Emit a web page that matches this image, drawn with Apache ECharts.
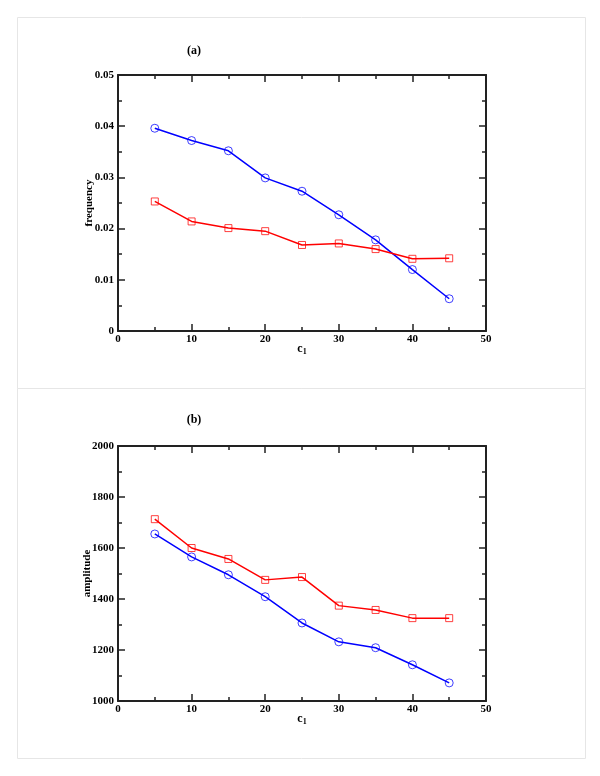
<!DOCTYPE html>
<html>
<head>
<meta charset="utf-8">
<script src="https://cdn.jsdelivr.net/npm/echarts@6/dist/echarts.min.js"></script>
<style>html,body{margin:0;padding:0;background:#fff;}#c{width:600px;height:776px;}</style>
</head>
<body>
<div id="c"></div>
<script>
const c1Values = [5, 10, 15, 20, 25, 30, 35, 40, 45];
const freqBlue = [0.0396, 0.0372, 0.0352, 0.0299, 0.0273, 0.0227, 0.0178, 0.0120, 0.0063];
const freqRed  = [0.0253, 0.0214, 0.0201, 0.0195, 0.0168, 0.0171, 0.0160, 0.0141, 0.0142];
const ampBlue  = [1655, 1565, 1495, 1409, 1306, 1232, 1209, 1142, 1071];
const ampRed   = [1713, 1600, 1557, 1475, 1486, 1374, 1357, 1325, 1325];
const panelTitles = ['(a)', '(b)'];
const yNames = ['frequency', 'amplitude'];

const FONT = '"Liberation Serif", "Times New Roman", serif';
const pairs = (xs, ys) => xs.map((x, i) => [x, ys[i]]);

function xAxes(gi) {
  const common = {
    gridIndex: gi, type: 'value', min: 0, max: 50, interval: 10,
    axisLine: { show: true, onZero: false, lineStyle: { color: '#222', width: 2 } },
    axisTick: { show: true, inside: true, length: 7, lineStyle: { color: '#222', width: 1.5 } },
    minorTick: { show: true, splitNumber: 2, length: 4, lineStyle: { color: '#222', width: 1.5 } },
    splitLine: { show: false }
  };
  return [
    Object.assign({}, common, {
      position: 'bottom',
      axisLabel: { fontFamily: FONT, fontWeight: 'bold', fontSize: 11, color: '#000', margin: 3 },
      name: '{c|c}{s|1}', nameLocation: 'middle', nameGap: 11, nameMoveOverlap: false,
      nameTextStyle: { rich: {
        c: { fontFamily: FONT, fontWeight: 'bold', fontSize: 12, color: '#000' },
        s: { fontFamily: FONT, fontWeight: 'bold', fontSize: 8, color: '#000', verticalAlign: 'bottom', padding: [6, 0, 0, 0] }
      } }
    }),
    Object.assign({}, common, { position: 'top', axisLabel: { show: false } })
  ];
}

function yAxes(gi, min, max, interval, fmt) {
  const common = {
    gridIndex: gi, type: 'value', min: min, max: max, interval: interval,
    axisLine: { show: true, onZero: false, lineStyle: { color: '#222', width: 2 } },
    axisTick: { show: true, inside: true, length: 7, lineStyle: { color: '#222', width: 1.5 } },
    minorTick: { show: true, splitNumber: 2, length: 4, lineStyle: { color: '#222', width: 1.5 } },
    splitLine: { show: false }
  };
  return [
    Object.assign({}, common, {
      position: 'left',
      axisLabel: { fontFamily: FONT, fontWeight: 'bold', fontSize: 11, color: '#000', margin: 4, formatter: fmt },
      name: yNames[gi], nameLocation: 'middle', nameGap: gi === 0 ? 23 : 25, nameMoveOverlap: false,
      nameTextStyle: { fontFamily: FONT, fontWeight: 'bold', fontSize: 11, color: '#000' }
    }),
    Object.assign({}, common, { position: 'right', axisLabel: { show: false } })
  ];
}

function series(xi, yi, data, color, symbol) {
  return {
    type: 'line', xAxisIndex: xi, yAxisIndex: yi, data: data,
    symbol: symbol, symbolSize: symbol === 'circle' ? 8 : 7,
    lineStyle: { color: color, width: 1.5 },
    itemStyle: { color: 'transparent', borderColor: color, borderWidth: 1, opacity: 0.75 },
    emphasis: { disabled: true }, animation: false, z: 3
  };
}

const chart = echarts.init(document.getElementById('c'), null, { renderer: 'canvas' });
chart.setOption({
  backgroundColor: '#fff',
  animation: false,
  graphic: [
    { type: 'rect', shape: { x: 17.5, y: 17.5, width: 568, height: 371 }, style: { fill: 'none', stroke: '#e6e6e6', lineWidth: 1 } },
    { type: 'rect', shape: { x: 17.5, y: 388.5, width: 568, height: 370 }, style: { fill: 'none', stroke: '#e6e6e6', lineWidth: 1 } }
  ],
  title: [
    { text: panelTitles[0], left: 189, top: 40, textAlign: 'center', textStyle: { fontFamily: FONT, fontWeight: 'bold', fontSize: 12, color: '#000' } },
    { text: panelTitles[1], left: 189, top: 409, textAlign: 'center', textStyle: { fontFamily: FONT, fontWeight: 'bold', fontSize: 12, color: '#000' } }
  ],
  grid: [
    { left: 118, width: 368, top: 75, height: 256 },
    { left: 118, width: 368, top: 446, height: 255 }
  ],
  xAxis: [].concat(xAxes(0), xAxes(1)),
  yAxis: [].concat(
    yAxes(0, 0, 0.05, 0.01, v => v === 0 ? '0' : v.toFixed(2)),
    yAxes(1, 1000, 2000, 200, v => String(v))
  ),
  series: [
    series(0, 0, pairs(c1Values, freqBlue), '#0000ff', 'circle'),
    series(0, 0, pairs(c1Values, freqRed), '#ff0000', 'rect'),
    series(2, 2, pairs(c1Values, ampRed), '#ff0000', 'rect'),
    series(2, 2, pairs(c1Values, ampBlue), '#0000ff', 'circle')
  ]
});
</script>
</body>
</html>
